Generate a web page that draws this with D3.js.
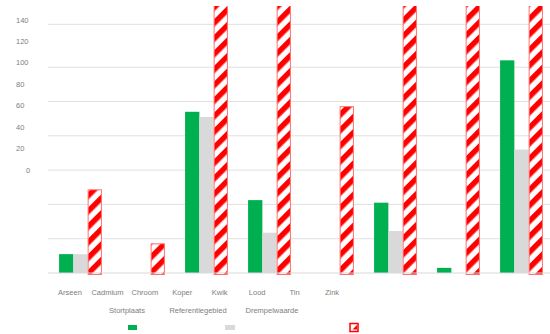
<!DOCTYPE html>
<html>
<head>
<meta charset="utf-8">
<script src="https://cdn.jsdelivr.net/npm/d3@7"></script>
<style>
  body { margin: 0; background: #fff; }
  svg { display: block; font-family: "Liberation Sans", Arial, sans-serif; }
  .lbl { fill: #808080; font-size: 7.5px; }
</style>
</head>
<body>
<svg id="chart" width="550" height="334"></svg>
<script>
// data
var categories = ["Arseen", "Cadmium", "Chroom", "Koper", "Kwik", "Lood", "Tin", "Zink"];
var seriesNames = ["Stortplaats", "Referentiegebied", "Drempelwaarde"];
var stortplaats = [11, 0, 94, 42.5, 0, 41, 3, 124];
var referentie = [11, 0, 91, 23.5, 0, 24.5, 0, 72];
var drempel = [48.5, 17, 190, 200, 97, 530, 180, 720];
var tickLabels = [140, 120, 100, 80, 60, 40, 20, 0];
var gridValues = [20, 40, 60, 80, 100, 120, 145];

var colors = ["#00b050", "#d9d9d9", "url(#hatch)"];

var svg = d3.select("#chart");

// hatched red pattern
var defs = svg.append("defs");
var pat = defs.append("pattern")
    .attr("id", "hatch")
    .attr("patternUnits", "userSpaceOnUse")
    .attr("width", 11)
    .attr("height", 11)
    .attr("patternTransform", "rotate(45)");
pat.append("rect").attr("width", 11).attr("height", 11).attr("fill", "#fff");
pat.append("rect").attr("width", 5.5).attr("height", 11).attr("fill", "#ff0000");

defs.append("clipPath").attr("id", "plotclip")
    .append("rect").attr("x", 0).attr("y", 6).attr("width", 550).attr("height", 272);

var x0 = d3.scaleBand().domain(categories).range([49, 553]).paddingInner(0.32).paddingOuter(0.16);
var x1 = d3.scaleBand().domain(seriesNames).range([0, x0.bandwidth()]);
var y = d3.scaleLinear().domain([0, 160]).range([273, 273 - 160 * 1.715]);

// gridlines
svg.append("g").selectAll("line")
    .data(gridValues)
    .enter()
    .append("line")
    .attr("x1", 48).attr("x2", 550)
    .attr("y1", function(d){ return y(d); })
    .attr("y2", function(d){ return y(d); })
    .attr("stroke", "#e0e0e0")
    .attr("stroke-width", 1);

// the tick labels sit on their own (squashed) scale
var yl = d3.scaleLinear().domain([0, 140]).range([170, 20]);
svg.append("g").selectAll("text")
    .data(tickLabels)
    .enter()
    .append("text")
    .attr("class", "lbl")
    .attr("x", function(d){ return d === 0 ? 26 : 16; })
    .attr("y", function(d){ return yl(d) + 2.5; })
    .text(function(d){ return d; });

var seriesData = [stortplaats, referentie, drempel];

var bars = svg.append("g").attr("clip-path", "url(#plotclip)");
seriesData.forEach(function(vals, s){
    var rows = vals.map(function(v, i){ return { cat: categories[i], v: v }; })
        .filter(function(r){ return r.v > 0; });
    bars.selectAll(".s" + s)
        .data(rows)
        .enter()
        .append("rect")
        .attr("class", "s" + s)
        .attr("x", function(d){ return x0(d.cat) + x1(seriesNames[s]) + (s === 2 ? 0.5 : 0); })
        .attr("y", function(d){ return y(d.v); })
        .attr("width", x1.bandwidth() - (s === 2 ? 1 : 0))
        .attr("height", function(d){ return y(0) - y(d.v) + (s === 2 ? 1.5 : 0); })
        .attr("fill", colors[s])
        .attr("stroke", s === 2 ? "#ff7070" : "none")
        .attr("stroke-width", s === 2 ? 1 : 0);
});

// baseline
svg.append("line")
    .attr("x1", 48).attr("x2", 550)
    .attr("y1", y(0)).attr("y2", y(0))
    .attr("stroke", "#d9d9d9");

// category labels (squeezed to the left)
var xc = d3.scalePoint().domain(categories).range([70, 332]);
svg.append("g").selectAll("text")
    .data(categories)
    .enter()
    .append("text")
    .attr("class", "lbl")
    .attr("text-anchor", "middle")
    .attr("x", function(d){ return xc(d); })
    .attr("y", 295)
    .text(function(d){ return d; });

// legend names
var legX = [127, 198, 272];
svg.append("g").selectAll("text")
    .data(seriesNames)
    .enter()
    .append("text")
    .attr("class", "lbl")
    .attr("text-anchor", "middle")
    .attr("x", function(d, i){ return legX[i]; })
    .attr("y", 313)
    .text(function(d){ return d; });

// legend swatches
var swX = [133, 230, 354];
var sw = svg.append("g");
sw.append("rect").attr("x", swX[0] - 5).attr("y", 325).attr("width", 9).attr("height", 5).attr("fill", colors[0]);
sw.append("rect").attr("x", swX[1] - 5).attr("y", 325).attr("width", 10).attr("height", 5).attr("fill", colors[1]);
sw.append("rect").attr("x", swX[2] - 4).attr("y", 323.5).attr("width", 8).attr("height", 8)
    .attr("fill", "#fff").attr("stroke", "#ff0000").attr("stroke-width", 1.5);
sw.append("path")
    .attr("d", "M" + (swX[2] - 1.5) + ",329.5 L" + (swX[2] + 3) + ",325 L" + (swX[2] + 3) + ",329.5 Z")
    .attr("fill", "#ff0000");
</script>
</body>
</html>
